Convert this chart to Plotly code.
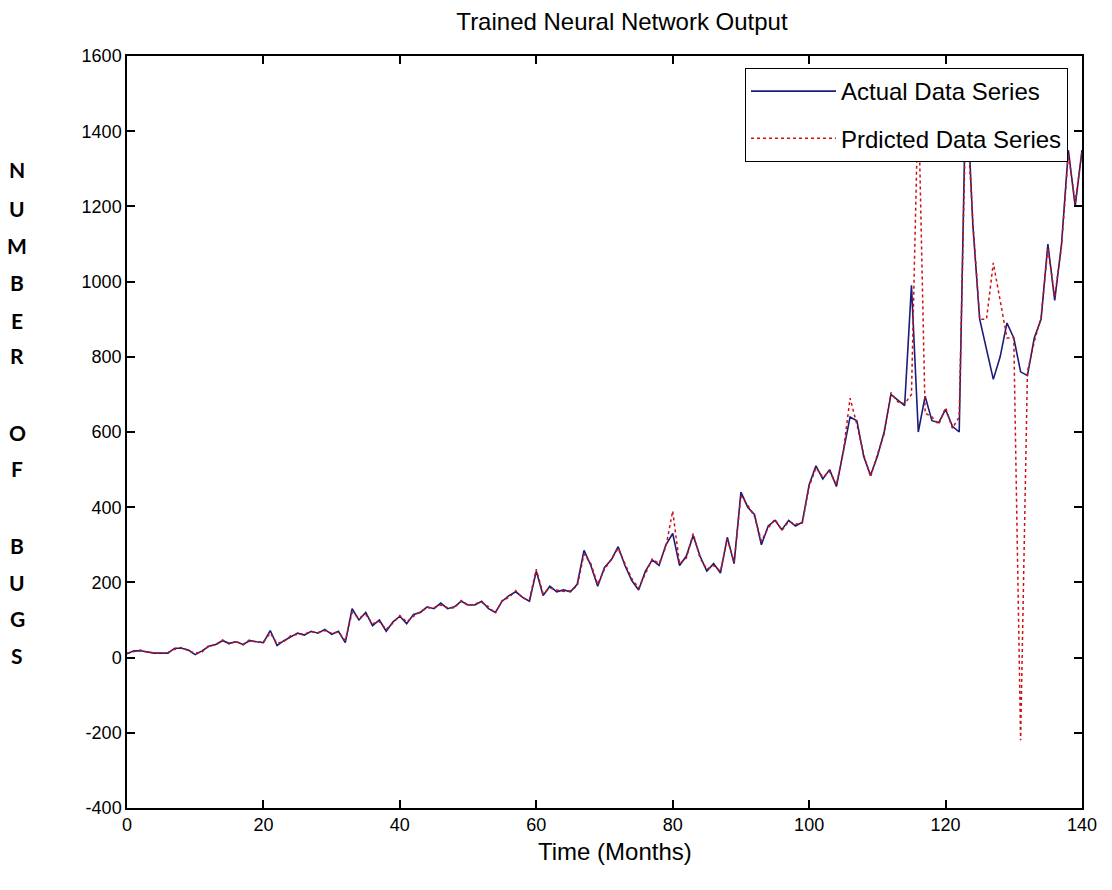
import plotly.graph_objects as go

months = list(range(0, 141))

actual = [
    10, 18, 18, 15, 12, 12, 12, 25, 25, 20,
    8, 18, 30, 35, 45, 38, 42, 35, 45, 42,
    40, 72, 32, 45, 55, 65, 60, 70, 65, 75,
    62, 70, 40, 130, 100, 120, 85, 100, 70, 95,
    110, 90, 115, 120, 135, 130, 145, 130, 135, 150,
    140, 140, 150, 130, 120, 150, 165, 175, 160, 150,
    230, 165, 190, 175, 180, 175, 195, 285, 245, 190,
    240, 260, 295, 245, 205, 180, 230, 260, 245, 300,
    330, 245, 270, 325, 270, 230, 250, 225, 320, 250,
    440, 400, 380, 300, 350, 365, 340, 365, 350, 360,
    460, 510, 475, 500, 455, 550, 640, 630, 535, 485,
    535, 600, 700, 685, 670, 990, 600, 695, 630, 625,
    660, 615, 600, 1550, 1150, 900, 820, 740, 800, 890,
    850, 760, 750, 850, 900, 1100, 950, 1100, 1350, 1200,
    1350,
]

predicted = [
    12, 16, 20, 14, 13, 10, 14, 22, 27, 18,
    12, 15, 32, 33, 47, 36, 44, 33, 48, 40,
    42, 65, 38, 43, 58, 62, 63, 68, 67, 72,
    65, 68, 45, 120, 105, 115, 90, 96, 75, 92,
    112, 95, 110, 122, 132, 133, 140, 133, 132, 152,
    138, 143, 147, 135, 118, 152, 160, 178, 158, 155,
    235, 170, 185, 180, 176, 178, 190, 275, 250, 195,
    235, 262, 290, 250, 210, 185, 225, 262, 250, 295,
    390, 250, 265, 330, 265, 235, 245, 230, 315, 255,
    430, 405, 375, 310, 345, 368, 338, 362, 355, 358,
    455, 505, 480, 495, 460, 545, 690, 620, 540, 480,
    540, 595, 705, 680, 675, 700, 1500, 650, 640, 620,
    665, 610, 640, 1480, 1160, 900, 900, 1050, 950, 850,
    850, -220, 760, 840, 905, 1090, 960, 1095, 1340, 1210,
    1345,
]

x_ticks = [0, 20, 40, 60, 80, 100, 120, 140]
y_ticks = [-400, -200, 0, 200, 400, 600, 800, 1000, 1200, 1400, 1600]

ylabel_letters = ["N", "U", "M", "B", "E", "R", "O", "F", "B", "U", "G", "S"]
ylabel_pixel_y = [170, 208, 245, 282, 320, 355, 432, 468, 545, 582, 618, 655]

W, H = 1112, 890
L, R, T, B = 127, 1082, 56, 808

fig = go.Figure()
fig.add_trace(go.Scatter(
    x=months, y=actual, mode="lines", name="Actual Data Series",
    legendgroup="a",
    line=dict(color="#1c1c7a", width=1.6),
))
fig.add_trace(go.Scatter(
    x=months, y=predicted, mode="lines", name="Prdicted Data Series",
    legendgroup="p",
    line=dict(color="#d01010", width=1.5, dash="dot"),
))

FAM = "Liberation Sans, Arial, sans-serif"
axis_font = dict(family=FAM, size=18, color="black")

fig.update_layout(
    width=W, height=H,
    margin=dict(l=L, r=W - R, t=T, b=H - B, pad=0),
    paper_bgcolor="white", plot_bgcolor="white",
    title=dict(
        text="Trained Neural Network Output",
        x=(622 - L) / (R - L), xref="paper", xanchor="center",
        y=1 - 22 / H, yref="container", yanchor="middle",
        font=dict(family=FAM, size=24, color="black"),
    ),
    showlegend=True,
    legend=dict(
        x=(1068 - L) / (R - L), xanchor="right",
        y=(B - 68) / (B - T), yanchor="top",
        bgcolor="white", bordercolor="black", borderwidth=1,
        font=dict(family=FAM, size=24, color="black"),
        itemwidth=85, tracegroupgap=13,
    ),
    xaxis=dict(
        range=[0, 140], tickvals=x_ticks, ticktext=[str(v) for v in x_ticks],
        showgrid=False, zeroline=False,
        showline=True, linecolor="black", linewidth=1.5, mirror="ticks",
        ticks="inside", ticklen=8, tickwidth=1.5, tickcolor="black",
        tickfont=axis_font,
    ),
    yaxis=dict(
        range=[-400, 1600], tickvals=y_ticks, ticktext=[str(v) for v in y_ticks],
        showgrid=False, zeroline=False,
        showline=True, linecolor="black", linewidth=1.5, mirror="ticks",
        ticks="inside", ticklen=8, tickwidth=1.5, tickcolor="black",
        tickfont=axis_font,
    ),
)

fig.add_annotation(
    text="Time (Months)", xref="paper", yref="paper",
    x=(615 - L) / (R - L), y=(B - 851) / (B - T),
    xanchor="center", yanchor="middle", showarrow=False,
    font=dict(family=FAM, size=24, color="black"),
)

for letter, py in zip(ylabel_letters, ylabel_pixel_y):
    fig.add_annotation(
        text="<b>%s</b>" % letter, xref="paper", yref="paper",
        x=(17 - L) / (R - L), y=(B - py) / (B - T),
        xanchor="center", yanchor="middle", showarrow=False,
        font=dict(family="Lato, Open Sans, sans-serif", size=21, color="black"),
    )

fig.write_html("out.html")
